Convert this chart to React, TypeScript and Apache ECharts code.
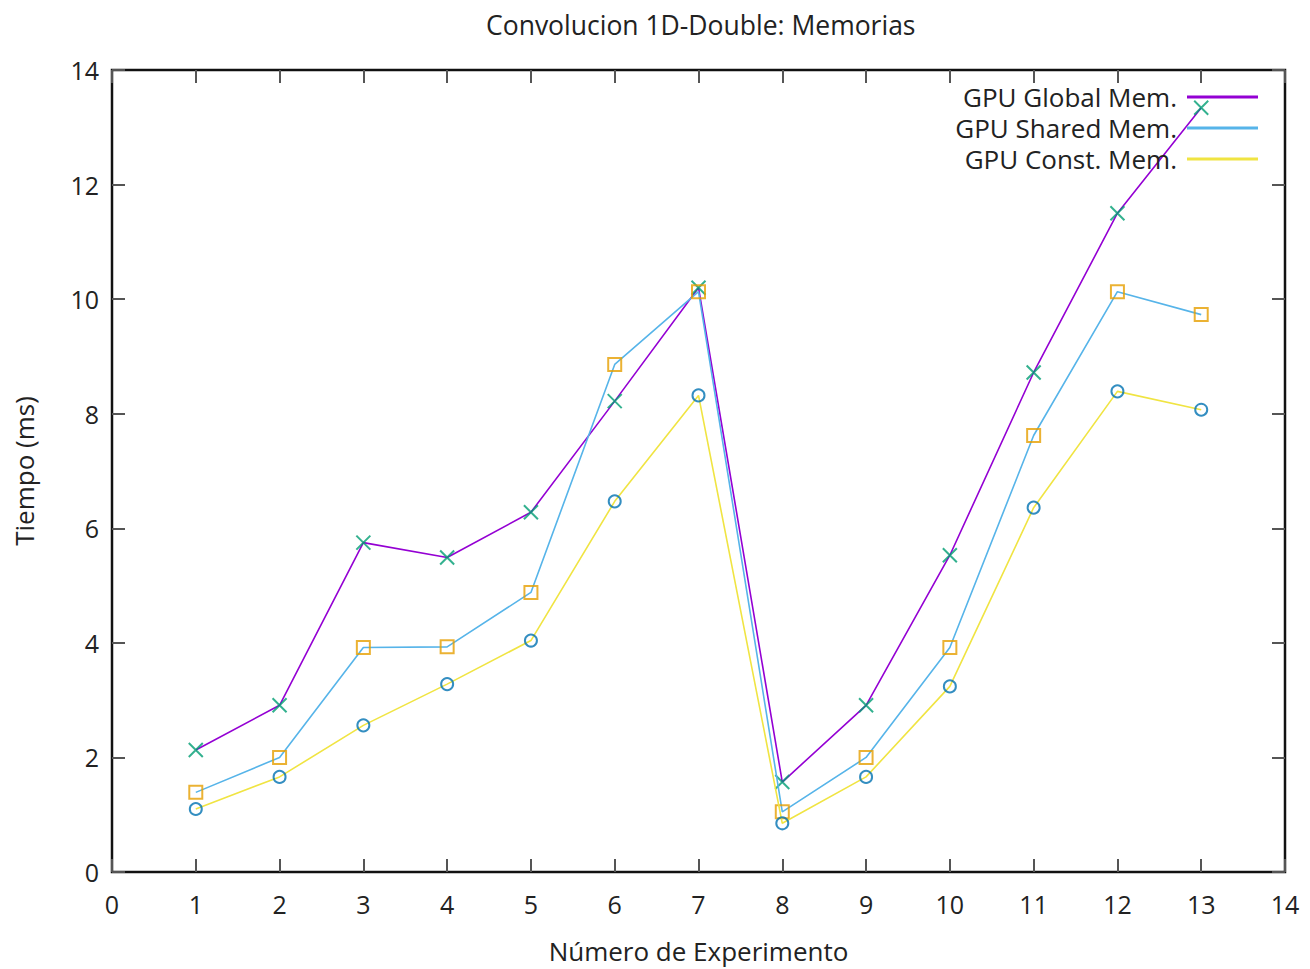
import React, { useEffect, useRef } from "react";
import * as echarts from "echarts";

// Experiment numbers on the x axis
const experiments = [1, 2, 3, 4, 5, 6, 7, 8, 9, 10, 11, 12, 13];

// Execution time (ms) per memory strategy
const globalMem = [2.13, 2.91, 5.75, 5.49, 6.28, 8.22, 10.2, 1.57, 2.91, 5.53, 8.72, 11.5, 13.34];
const sharedMem = [1.39, 2.0, 3.92, 3.93, 4.88, 8.86, 10.13, 1.05, 2.0, 3.92, 7.62, 10.13, 9.73];
const constMem = [1.1, 1.66, 2.56, 3.28, 4.04, 6.47, 8.32, 0.85, 1.66, 3.24, 6.36, 8.39, 8.07];

const seriesNames = ["GPU Global Mem.", "GPU Shared Mem.", "GPU Const. Mem."];
const xTicks = [0, 14, 1];
const yTicks = [0, 14, 2];

const FONT = "'Open Sans', 'Noto Sans', sans-serif";

const pairs = (vals: number[]) => experiments.map((x, i) => [x, vals[i]]);

export default function App() {
  const ref = useRef<HTMLDivElement>(null);

  useEffect(() => {
    if (!ref.current) return;
    const chart = echarts.init(ref.current, undefined, { renderer: "svg" });

    const lineSeries = (name: string, vals: number[], color: string, z: number) => ({
      type: "line",
      name,
      data: pairs(vals),
      symbol: "none",
      showSymbol: false,
      color,
      lineStyle: { color, width: 1.6 },
      z,
    });

    const markerSeries = (vals: number[], symbol: string, size: number, color: string, z: number) => ({
      type: "scatter",
      data: pairs(vals),
      symbol,
      symbolSize: size,
      itemStyle: { color: "transparent", borderColor: color, borderWidth: 2, opacity: 0.8 },
      silent: true,
      z,
    });

    const tickLabel = { fontFamily: FONT, fontSize: 25, color: "#222" };
    const tick = () => ({ show: true, inside: true, length: 13, lineStyle: { color: "#555", width: 2 } });

    chart.setOption({
      animation: false,
      backgroundColor: "#fff",
      title: {
        text: "Convolucion 1D-Double: Memorias",
        left: 481,
        top: 6,
        textStyle: { fontFamily: FONT, fontSize: 26.5, fontWeight: "normal", color: "#222" },
      },
      legend: {
        orient: "vertical",
        right: 47,
        top: 77,
        align: "right",
        icon: "rect",
        itemWidth: 71,
        itemHeight: 3,
        itemGap: 1,
        data: seriesNames,
        textStyle: { fontFamily: FONT, fontSize: 26, color: "#222", lineHeight: 30, padding: [0, 5, 0, 0] },
        selectedMode: false,
      },
      grid: {
        left: 112,
        right: 25,
        top: 70,
        bottom: 96,
        show: true,
        borderColor: "#111",
        borderWidth: 2.5,
        backgroundColor: "transparent",
      },
      xAxis: [
        {
          type: "value",
          min: xTicks[0],
          max: xTicks[1],
          interval: xTicks[2],
          name: "Número de Experimento",
          nameLocation: "middle",
          nameGap: 66,
          nameTextStyle: { fontFamily: FONT, fontSize: 26, color: "#222" },
          axisLine: { show: false, onZero: false },
          axisTick: tick(),
          axisLabel: { ...tickLabel, margin: 19 },
          splitLine: { show: false },
        },
        {
          type: "value",
          position: "top",
          min: xTicks[0],
          max: xTicks[1],
          interval: xTicks[2],
          axisLine: { show: false, onZero: false },
          axisTick: tick(),
          axisLabel: { show: false },
          splitLine: { show: false },
        },
      ],
      yAxis: [
        {
          type: "value",
          min: yTicks[0],
          max: yTicks[1],
          interval: yTicks[2],
          name: "Tiempo (ms)",
          nameLocation: "middle",
          nameGap: 75,
          nameTextStyle: { fontFamily: FONT, fontSize: 26, color: "#222" },
          axisLine: { show: false, onZero: false },
          axisTick: tick(),
          axisLabel: { ...tickLabel, margin: 13 },
          splitLine: { show: false },
        },
        {
          type: "value",
          position: "right",
          min: yTicks[0],
          max: yTicks[1],
          interval: yTicks[2],
          axisLine: { show: false, onZero: false },
          axisTick: tick(),
          axisLabel: { show: false },
          splitLine: { show: false },
        },
      ],
      series: [
        lineSeries(seriesNames[0], globalMem, "#9400d3", 3),
        markerSeries(globalMem, "path://M0,0L10,10M10,0L0,10", 14, "#009e73", 4),
        lineSeries(seriesNames[1], sharedMem, "#56b4e9", 5),
        markerSeries(sharedMem, "rect", 13, "#e69f00", 6),
        lineSeries(seriesNames[2], constMem, "#f0e442", 7),
        markerSeries(constMem, "circle", 12, "#0072b2", 8),
      ],
    });

    return () => chart.dispose();
  }, []);

  return <div ref={ref} style={{ width: 1310, height: 969, position: "absolute", left: 0, top: 0 }} />;
}
